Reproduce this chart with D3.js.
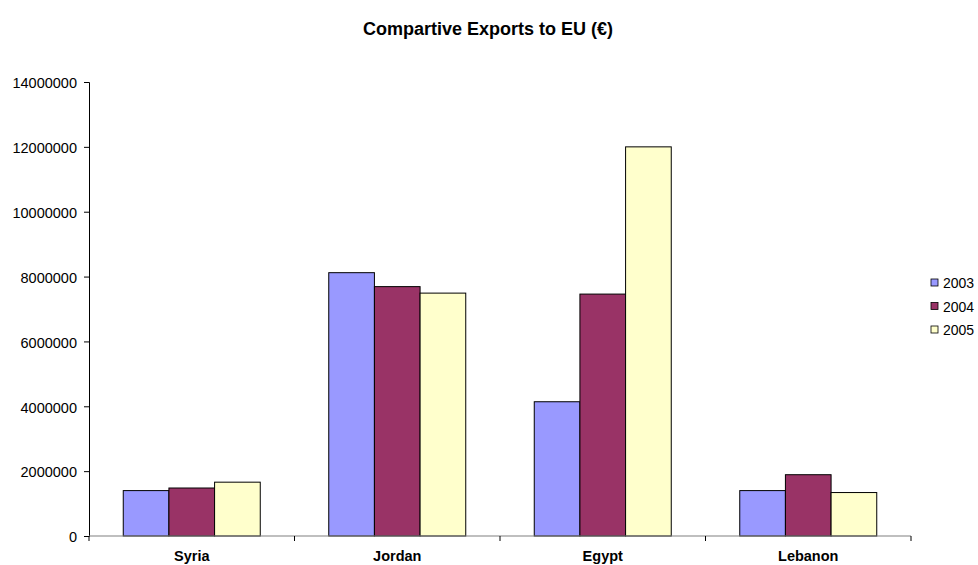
<!DOCTYPE html>
<html>
<head>
<meta charset="utf-8">
<script src="https://cdn.jsdelivr.net/npm/d3@7"></script>
<style>
  html, body { margin: 0; padding: 0; background: #ffffff; }
  svg text { font-family: Arial, "Liberation Sans", Helvetica, sans-serif; }
</style>
</head>
<body>
<svg id="chart" width="978" height="565"></svg>
<script>
// Exports to the EU by country and year (euros)
const countries = ["Syria", "Jordan", "Egypt", "Lebanon"];
const years = ["2003", "2004", "2005"];
const exports2003 = [1400000, 8120000, 4140000, 1400000];
const exports2004 = [1480000, 7690000, 7460000, 1890000];
const exports2005 = [1660000, 7490000, 12000000, 1340000];
const yTicks = [0, 2000000, 4000000, 6000000, 8000000, 10000000, 12000000, 14000000];
const colors = ["#9999FF", "#993366", "#FFFFCC"];

const seriesValues = [exports2003, exports2004, exports2005];
const rows = countries.map((c, i) => ({
  country: c,
  values: years.map((y, j) => ({ year: y, value: seriesValues[j][i] }))
}));

const svg = d3.select("#chart");
const margin = { left: 89, right: 67, top: 82, bottom: 29 };
const W = 978, H = 565;

const x0 = d3.scaleBand()
  .domain(countries)
  .range([margin.left, W - margin.right])
  .paddingInner(0)
  .paddingOuter(0);

// 150% gap width: the bar cluster fills 3 / 4.5 of each category band
const x1 = d3.scaleBand()
  .domain(years)
  .range([0, x0.bandwidth()])
  .paddingInner(0)
  .paddingOuter(0.75);

const y = d3.scaleLinear()
  .domain([0, 14000000])
  .range([H - margin.bottom, margin.top]);

// Title
svg.append("text")
  .attr("x", 488)
  .attr("y", 35)
  .attr("text-anchor", "middle")
  .attr("font-size", 18)
  .attr("font-weight", "bold")
  .text("Compartive Exports to EU (€)");

// Bars
const groups = svg.append("g").selectAll("g")
  .data(rows)
  .join("g")
  .attr("transform", d => `translate(${x0(d.country)},0)`);

groups.selectAll("rect")
  .data(d => d.values)
  .join("rect")
  .attr("x", d => x1(d.year))
  .attr("y", d => y(d.value))
  .attr("width", x1.bandwidth())
  .attr("height", d => y(0) - y(d.value))
  .attr("fill", (d, i) => colors[i])
  .attr("stroke", "#000")
  .attr("stroke-width", 1);

// Y axis
const yAxis = d3.axisLeft(y)
  .tickValues(yTicks)
  .tickFormat(d3.format("d"))
  .tickSize(5)
  .tickPadding(7);

const gy = svg.append("g")
  .attr("transform", `translate(${margin.left},0)`)
  .call(yAxis);
gy.select(".domain").attr("stroke", "#000");
gy.selectAll(".tick line").attr("stroke", "#000");
gy.selectAll("text").attr("font-size", 14.5).attr("fill", "#000")
  .attr("dy", "0.4em")
  .style("font-family", "Arial, 'Liberation Sans', sans-serif");

// X axis: ticks at category boundaries, labels centred in each band
const boundaries = countries.map(c => x0(c)).concat([x0.range()[1]]);
const gx = svg.append("g");
gx.append("line")
  .attr("x1", x0.range()[0]).attr("x2", x0.range()[1])
  .attr("y1", y(0)).attr("y2", y(0))
  .attr("stroke", "#808080").attr("stroke-width", 1.2);
gx.selectAll("line.tk")
  .data(boundaries)
  .join("line")
  .attr("class", "tk")
  .attr("x1", d => d).attr("x2", d => d)
  .attr("y1", y(0)).attr("y2", y(0) + 5)
  .attr("stroke", "#000");
gx.selectAll("text")
  .data(countries)
  .join("text")
  .attr("x", d => x0(d) + x0.bandwidth() / 2)
  .attr("y", y(0) + 25)
  .attr("text-anchor", "middle")
  .attr("font-size", 14.5)
  .attr("font-weight", "bold")
  .text(d => d);

// Legend
const legend = svg.append("g").attr("transform", "translate(931,279)");
const items = legend.selectAll("g")
  .data(years)
  .join("g")
  .attr("transform", (d, i) => `translate(0,${i * 23.5})`);
items.append("rect")
  .attr("x", 0).attr("y", 0)
  .attr("width", 7).attr("height", 7)
  .attr("fill", (d, i) => colors[i])
  .attr("stroke", "#000").attr("stroke-width", 0.8);
items.append("text")
  .attr("x", 12).attr("y", 9)
  .attr("font-size", 14)
  .text(d => d);
</script>
</body>
</html>
